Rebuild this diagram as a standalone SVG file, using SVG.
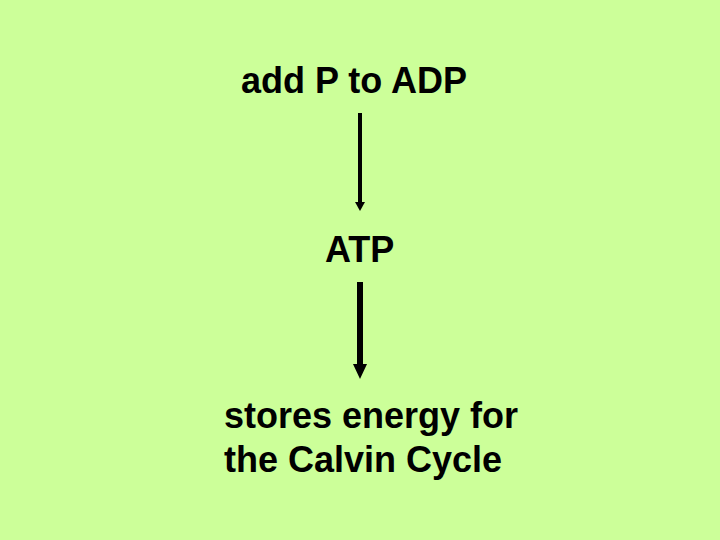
<svg xmlns="http://www.w3.org/2000/svg" width="720" height="540" viewBox="0 0 720 540">
<style>
text{font-family:"Liberation Sans",Arial,sans-serif;font-weight:bold;font-size:36px;fill:#000}
</style>
<rect width="720" height="540" fill="#CCFF99"/>
<g id="node-adp"><text x="241" y="93">add P to ADP</text></g>
<g id="node-atp"><text x="325" y="262">ATP</text></g>
<g id="node-stores"><text x="224" y="428">stores energy for</text><text x="224" y="472">the Calvin Cycle</text></g>
<g id="connectors">
<line x1="360" y1="113" x2="360" y2="203" stroke="#000" stroke-width="4"/>
<polygon points="355,202 365,202 360,211" fill="#000"/>
<line x1="360" y1="282" x2="360" y2="366" stroke="#000" stroke-width="6"/>
<polygon points="353,364 367,364 360,379" fill="#000"/>
</g>
</svg>
